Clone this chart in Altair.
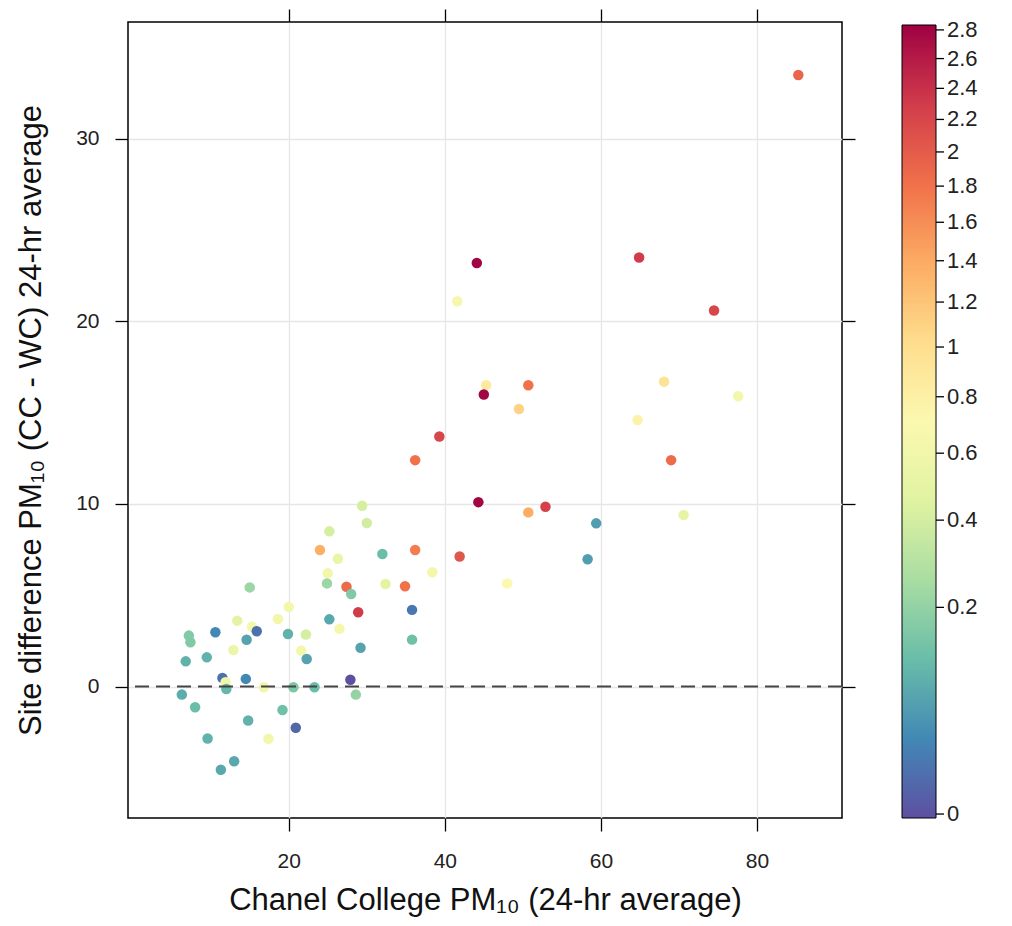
import altair as alt
import numpy as np
import pandas as pd

# ---- data ----
CC_PM10 = [85.3, 44.1, 41.6, 64.9, 74.5, 68.1, 77.6, 64.7, 69.0, 70.6,
           59.4, 58.3, 50.7, 45.3, 45.0, 49.5, 39.3, 36.2, 44.3, 50.7,
           52.9, 36.2, 41.9, 38.4, 48.0,
           29.4, 30.0, 25.2, 24.0, 26.3, 32.0, 25.0, 15.0, 24.9, 27.4,
           28.0, 32.4, 34.9, 20.0, 18.6, 28.9, 35.8, 25.2, 35.8, 26.5,
           29.2,
           13.4, 15.3, 15.9, 14.6, 10.6, 7.2, 7.4, 19.9, 22.2, 6.8,
           9.5, 12.9, 21.6, 22.3, 11.5, 11.9, 14.5, 27.9, 6.3, 12.0,
           16.8, 20.6, 23.3, 28.6, 8.0, 19.2, 14.8, 20.9, 9.6, 17.4,
           13.0, 11.3]
DIFF_PM10 = [33.5, 23.2, 21.1, 23.5, 20.6, 16.7, 15.9, 14.6, 12.4, 9.4,
             8.94, 6.97, 16.5, 16.5, 16.0, 15.2, 13.7, 12.4, 10.1, 9.54,
             9.85, 7.48, 7.12, 6.26, 5.65,
             9.9, 8.96, 8.5, 7.48, 7.0, 7.26, 6.2, 5.43, 5.65, 5.47,
             5.07, 5.62, 5.49, 4.36, 3.7, 4.07, 4.2, 3.68, 2.57, 3.16,
             2.12,
             3.61, 3.28, 3.03, 2.56, 2.97, 2.79, 2.43, 2.88, 2.85, 1.38,
             1.6, 2.0, 1.97, 1.51, 0.47, 0.24, 0.42, 0.37, -0.44, -0.13,
             -0.04, -0.04, -0.04, -0.44, -1.13, -1.28, -1.86, -2.26, -2.85, -2.86,
             -4.09, -4.56]
Z_VALUE = [1.9, 2.8, 0.65, 2.3, 2.2, 0.95, 0.63, 0.77, 1.86, 0.52,
           0.056, 0.056, 1.81, 0.86, 2.8, 1.09, 2.2, 1.81, 2.8, 1.39,
           2.25, 1.72, 2.05, 0.63, 0.71,
           0.41, 0.39, 0.41, 1.35, 0.55, 0.113, 0.63, 0.22, 0.22, 1.86,
           0.163, 0.48, 1.81, 0.63, 0.63, 2.3, 0.014, 0.073, 0.125, 0.65,
           0.064,
           0.5, 0.63, 0.01, 0.064, 0.028, 0.163, 0.163, 0.092, 0.41, 0.092,
           0.092, 0.574, 0.63, 0.064, 0.01, 0.6, 0.028, 0.0, 0.082, 0.1,
           0.6, 0.15, 0.113, 0.207, 0.113, 0.125, 0.092, 0.005, 0.092, 0.63,
           0.073, 0.073]

# colour key (square-root scaled)
BREAKS = [0, 0.2, 0.4, 0.6, 0.8, 1, 1.2, 1.4, 1.6, 1.8, 2, 2.2, 2.4, 2.6, 2.8]
Z_MAX = 2.835
ZERO_LABEL_POS = 0.005   # the "0" label sits just above the bar's bottom edge

X_TICKS = [20, 40, 60, 80]
Y_TICKS = [0, 10, 20, 30]
X_DOMAIN = [-0.6, 90.9]
Y_DOMAIN = [-7.2, 36.4]

X_TITLE = "Chanel College PM\u2081\u2080 (24-hr average)"
Y_TITLE = "Site difference PM\u2081\u2080 (CC - WC) 24-hr average"

# ---- layout ----
PLOT_W, PLOT_H = 714, 796
CBAR_X, CBAR_TOP, CBAR_LEN, CBAR_W = 774, 3, 793, 34
FONT = "Liberation Sans"

df = pd.DataFrame({"cc": CC_PM10, "diff": DIFF_PM10, "z": Z_VALUE})
df["t"] = np.sqrt(df["z"] / Z_MAX)
break_pos = [float(v) for v in np.sqrt(np.array(BREAKS, dtype=float) / Z_MAX)]
break_pos[0] = ZERO_LABEL_POS

labels = [f"{b:g}" for b in BREAKS]
expr = f"'{labels[-1]}'"
for i in range(len(BREAKS) - 2, -1, -1):
    mid = (break_pos[i] + break_pos[i + 1]) / 2
    expr = f"datum.value < {mid:.5f} ? '{labels[i]}' : ({expr})"

xs = alt.Scale(domain=X_DOMAIN, nice=False, zero=False)
ys = alt.Scale(domain=Y_DOMAIN, nice=False, zero=False)

common_axis = dict(domain=False, tickColor="black", tickWidth=1.3, tickSize=13,
                   labelFont=FONT, labelFontSize=21, labelColor="#222222",
                   titleFont=FONT, titleFontSize=31, titleFontWeight="normal",
                   titleColor="#111111", gridColor="#e6e6e6", gridWidth=1.3)

points = alt.Chart(df).mark_circle(size=110, opacity=1).encode(
    x=alt.X("cc:Q", scale=xs,
            axis=alt.Axis(orient="bottom", values=X_TICKS, grid=True, title=X_TITLE,
                          labelPadding=19, titlePadding=14, **common_axis)),
    y=alt.Y("diff:Q", scale=ys,
            axis=alt.Axis(orient="left", values=Y_TICKS, grid=True, title=Y_TITLE,
                          labelPadding=16, titlePadding=28, **common_axis)),
    color=alt.Color("t:Q",
                    scale=alt.Scale(domain=[0, 1], scheme="spectral", reverse=True),
                    legend=alt.Legend(orient="none", legendX=CBAR_X, legendY=CBAR_TOP,
                                      direction="vertical", title=None,
                                      gradientLength=CBAR_LEN, gradientThickness=CBAR_W,
                                      gradientStrokeColor="black", gradientStrokeWidth=1,
                                      values=break_pos, labelExpr=expr,
                                      labelOverlap=False, labelBaseline="middle",
                                      labelFont=FONT, labelFontSize=22,
                                      labelColor="#222222", labelOffset=11)),
)

zero = alt.Chart(pd.DataFrame({"y0": [0]})).mark_rule(
    strokeDash=[14, 7], color="#444444", strokeWidth=2
).encode(y=alt.Y("y0:Q", scale=ys, axis=None))

mirror = alt.Chart(df).mark_circle(opacity=0).encode(
    x=alt.X("cc:Q", scale=xs,
            axis=alt.Axis(orient="top", values=X_TICKS, labels=False, grid=False,
                          title=None, **common_axis)),
    y=alt.Y("diff:Q", scale=ys,
            axis=alt.Axis(orient="right", values=Y_TICKS, labels=False, grid=False,
                          title=None, **common_axis)),
)

inner = alt.layer(points, zero, mirror).resolve_axis(x="independent", y="independent")

key_ticks = alt.Chart(pd.DataFrame({"pos": break_pos})).mark_rule(
    color="black", strokeWidth=1.3
).encode(
    y=alt.Y("pos:Q", axis=None,
            scale=alt.Scale(domain=[0, PLOT_H / CBAR_LEN], nice=False, zero=False)),
    x=alt.value(CBAR_X + CBAR_W),
    x2=alt.value(CBAR_X + CBAR_W + 8),
)

chart = alt.layer(inner, key_ticks).resolve_scale(y="independent").properties(
    width=PLOT_W, height=PLOT_H,
    padding={"left": 120, "top": 14, "right": 156, "bottom": 100},
    autosize=alt.AutoSizeParams(type="none"),
).configure_view(stroke="black", strokeWidth=1.5)

chart.save("out.html", embed_options={"renderer": "svg", "actions": False})
